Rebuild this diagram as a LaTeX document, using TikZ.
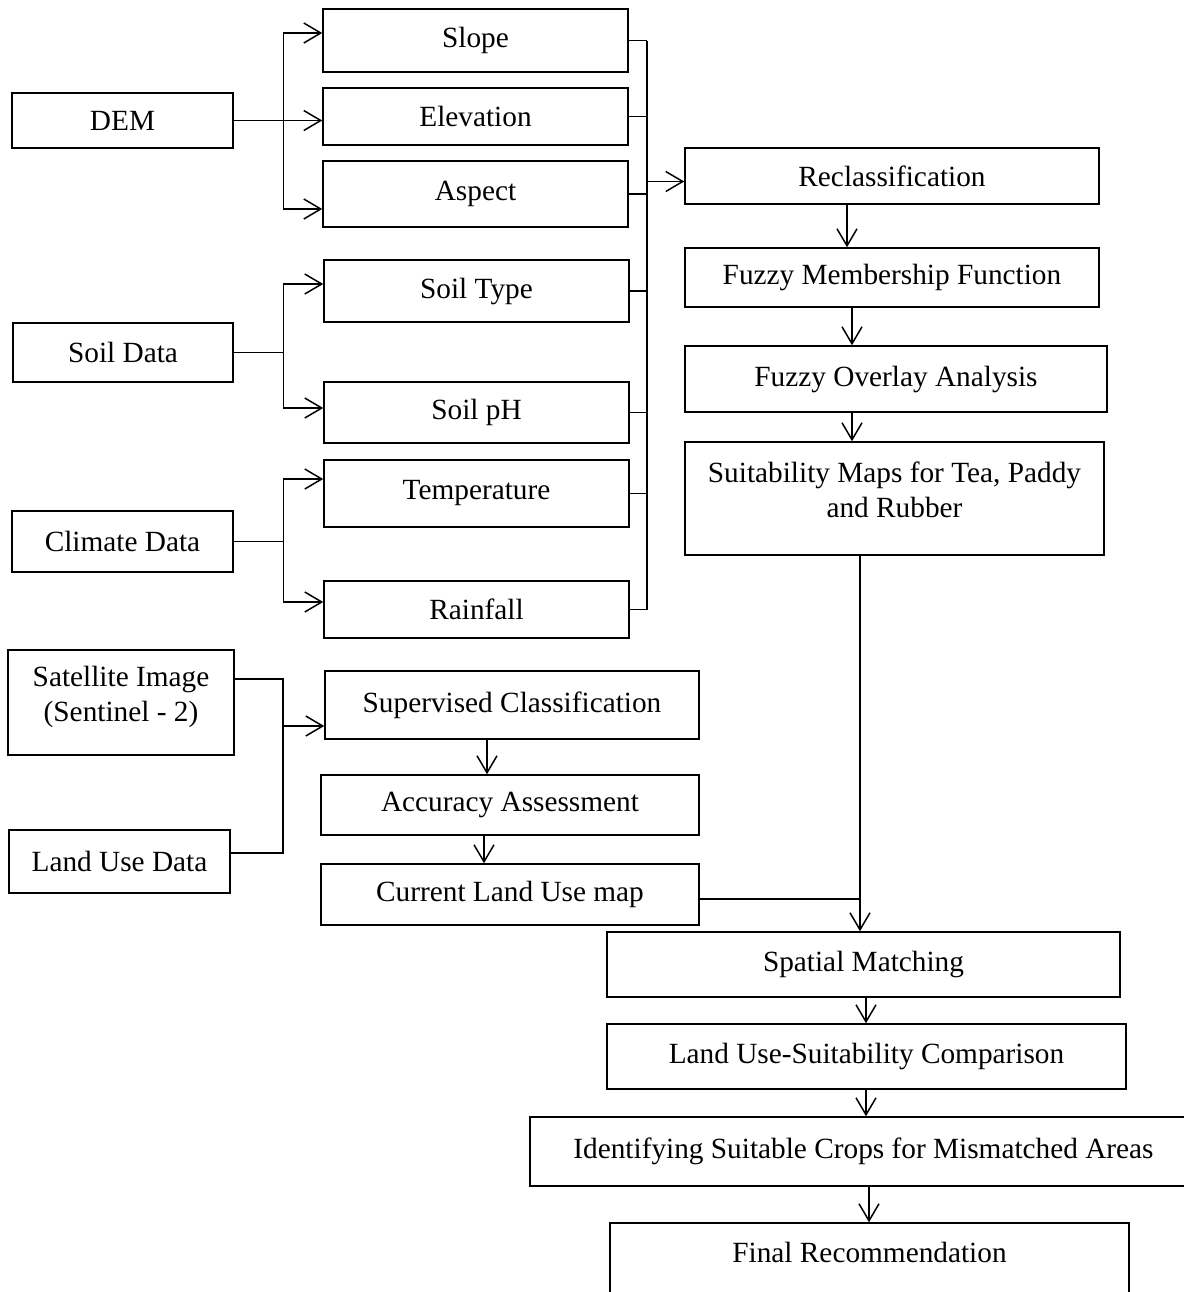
\documentclass[tikz,border=0pt]{standalone}
\usepackage{fontspec}
\setmainfont{Liberation Serif}
\usetikzlibrary{arrows.meta,calc}
\begin{document}
\begin{tikzpicture}[x=0.5pt,y=-0.5pt,
  font=\fontsize{14.65}{17.5}\selectfont,
  box/.style={draw, line width=0.75pt, inner sep=0pt, align=center},
  bx/.style 2 args={box, minimum width=#1pt, minimum height=#2pt},
  line/.style={draw, line width=0.75pt},
  arr/.style={line, -{Straight Barb[length=8.5pt,width=10pt,line width=0.75pt]}}]
\useasboundingbox (0,0) rectangle (1184,1292);
\fill[white] (0,0) rectangle (1184,1292);
\clip (0,0) rectangle (1184,1292);

% left inputs
\node[bx={110.5}{27.5}] (dem) at (122.5,120.5) {DEM};
\node[bx={110}{29.5}] (soildata) at (123,352.5) {Soil Data};
\node[bx={110.5}{30.5}] (climate) at (122.5,541.5) {Climate Data};
\node[bx={113}{52.5}] (sat) at (121,702.5) {};
\node[align=center, inner sep=0pt] (sattxt) at (121,696.5) {Satellite Image\\(Sentinel - 2)};
\node[bx={110.5}{31.5}] (lud) at (119.5,861.5) {Land Use Data};

% factor boxes
\node[bx={152.5}{31.5}] (slope) at (475.5,40.5) {Slope};
\node[bx={152.5}{28.5}] (elev) at (475.5,116.5) {Elevation};
\node[bx={152.5}{33}] (aspect) at (475.5,194) {Aspect};
\node[bx={152.5}{31}] (soiltype) at (476.5,291) {Soil Type};
\node[bx={152.5}{30.5}] (soilph) at (476.5,412.5) {Soil pH};
\node[bx={152.5}{33.5}] (temp) at (476.5,493.5) {Temperature};
\node[bx={152.5}{28.5}] (rain) at (476.5,609.5) {Rainfall};

% classification chain
\node[bx={187}{34}] (sup) at (512,705) {Supervised Classification};
\node[bx={189}{30}] (acc) at (510,805) {Accuracy Assessment};
\node[bx={189}{30.5}] (cur) at (510,894.5) {Current Land Use map};

% fuzzy chain
\node[bx={207}{28}] (reclass) at (892,176) {Reclassification};
\node[bx={207}{29.5}] (fmf) at (892,277.5) {Fuzzy Membership Function};
\node[bx={211}{33}] (foa) at (896,379) {Fuzzy Overlay Analysis};
\node[bx={209.5}{56.5}] (suit) at (894.5,498.5) {};
\node[align=center, inner sep=0pt] (suittxt) at (894.5,489.5) {Suitability Maps for Tea, Paddy\\and Rubber};

% final chain
\node[bx={256.5}{32.5}] (spm) at (863.5,964.5) {Spatial Matching};
\node[bx={259.5}{32.5}] (lus) at (866.5,1056.5) {Land Use-Suitability Comparison};
\node[bx={333.5}{34.5}] (idn) at (863.5,1151.5) {Identifying Suitable Crops for Mismatched Areas};
\node[bx={259.5}{48.5}] (fin) at (869.5,1271.5) {};
\node[anchor=base, inner sep=0pt] (fintxt) at (869.5,1262) {Final Recommendation};

% DEM branches
\draw[arr] (dem.east) -| ($(slope.west)+(-39,-7.5)$) -- ($(slope.west)+(0,-7.5)$);
\draw[arr] (dem.east) -- (dem.east -| elev.west);
\draw[arr] (dem.east) -| ($(aspect.west)+(-39,15)$) -- ($(aspect.west)+(0,15)$);
% Soil branches
\draw[arr] (soildata.east) -| ($(soiltype.west)+(-40,-7)$) -- ($(soiltype.west)+(0,-7)$);
\draw[arr] (soildata.east) -| ($(soilph.west)+(-40,-4.5)$) -- ($(soilph.west)+(0,-4.5)$);
% Climate branches
\draw[arr] (climate.east) -| ($(temp.west)+(-40,-14.5)$) -- ($(temp.west)+(0,-14.5)$);
\draw[arr] (climate.east) -| ($(rain.west)+(-40,-7.5)$) -- ($(rain.west)+(0,-7.5)$);

% bus to reclassification
\coordinate (bus) at (647,0);
\foreach \n in {slope,elev,aspect,soiltype,soilph,temp,rain}
  \draw[line] (\n.east) -- (\n.east -| bus);
\draw[line] (slope.east -| bus) -- (rain.east -| bus);
\draw[arr] ($(reclass.west)+(-36,5.5)$) -- ($(reclass.west)+(0,5.5)$);

% fuzzy chain arrows
\draw[arr] ($(reclass.south)+(-45,0)$) -- ($(fmf.north)+(-45,0)$);
\draw[arr] ($(fmf.south)+(-40,0)$) -- ($(foa.north)+(-44,0)$);
\draw[arr] ($(foa.south)+(-44,0)$) -- ($(suit.north)+(-42.5,0)$);
\draw[arr] ($(suit.south)+(-34.5,0)$) -- ($(spm.north)+(-3.5,0)$);
\coordinate (j) at (860,899);
\draw[line] (cur.east |- j) -- (j);
\draw[arr] ($(spm.south)+(2.5,0)$) -- ($(lus.north)+(-0.5,0)$);
\draw[arr] ($(lus.south)+(-0.5,0)$) -- ($(idn.north)+(2.5,0)$);
\draw[arr] ($(idn.south)+(5.5,0)$) -- ($(fin.north)+(-0.5,0)$);

% satellite / land use to classification
\coordinate (bs) at (283,679);
\coordinate (bl) at (283,853);
\coordinate (ba) at (283,726);
\draw[line] (sat.east |- bs) -- (bs) -- (bl) -- (lud.east |- bl);
\draw[arr] (ba) -- (ba -| sup.west);
\draw[arr] ($(sup.south)+(-25,0)$) -- ($(acc.north)+(-23,0)$);
\draw[arr] ($(acc.south)+(-26,0)$) -- ($(cur.north)+(-26,0)$);
\end{tikzpicture}
\end{document}
